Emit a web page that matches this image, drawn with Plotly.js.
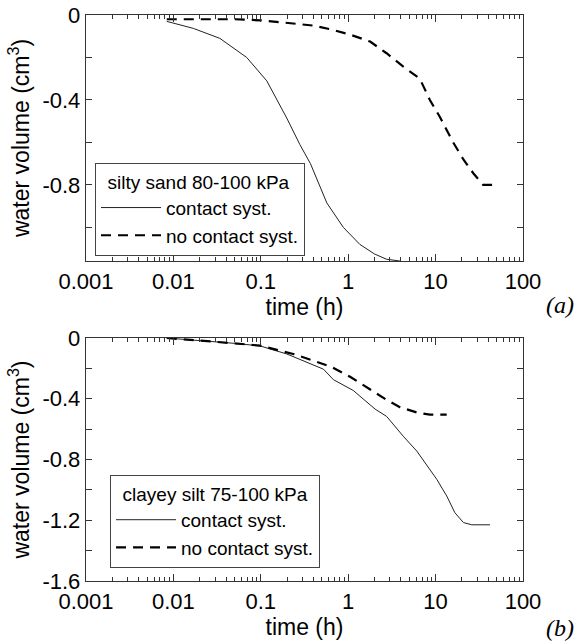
<!DOCTYPE html>
<html>
<head>
<meta charset="utf-8">
<script src="https://cdn.plot.ly/plotly-3.0.1.min.js"></script>
<style>html,body{margin:0;padding:0;background:#fff;}#chart{width:580px;height:644px;}</style>
</head>
<body>
<div id="chart"></div>
<script>
// ---- data (time in hours, water volume in cm3) ----
const seriesNames = ["contact syst.", "no contact syst."];
const legendTitleA = "silty sand 80-100 kPa";
const legendTitleB = "clayey silt 75-100 kPa";

const a_contact_t = [0.0084, 0.0169, 0.034, 0.069, 0.117, 0.198, 0.28, 0.37, 0.57, 0.88, 1.36, 2.0, 2.75, 3.9];
const a_contact_v = [-0.03, -0.063, -0.11, -0.2, -0.31, -0.485, -0.61, -0.7, -0.885, -1.0, -1.08, -1.125, -1.15, -1.158];

const a_nocontact_t = [0.0084, 0.02, 0.05, 0.1, 0.14, 0.234, 0.4, 0.67, 1.1, 1.78, 2.75, 4.27, 6.6, 8.6, 11.2, 15.9, 20.8, 27, 35, 52];
const a_nocontact_v = [-0.02, -0.02, -0.02, -0.025, -0.03, -0.04, -0.05, -0.07, -0.095, -0.125, -0.18, -0.243, -0.3, -0.4, -0.48, -0.6, -0.68, -0.745, -0.8, -0.8];

const b_contact_t = [0.0084, 0.02, 0.05, 0.098, 0.198, 0.52, 0.68, 1.14, 1.49, 2.03, 2.75, 4.27, 6.1, 7.9, 10.3, 13.4, 16.6, 20.8, 25.9, 41.9];
const b_contact_v = [0, -0.015, -0.035, -0.052, -0.105, -0.205, -0.275, -0.345, -0.402, -0.468, -0.516, -0.647, -0.745, -0.833, -0.93, -1.04, -1.15, -1.215, -1.23, -1.23];

const b_nocontact_t = [0.0084, 0.02, 0.05, 0.098, 0.14, 0.235, 0.4, 0.64, 1.05, 1.78, 2.75, 3.9, 6.1, 8.6, 13.4];
const b_nocontact_v = [0, -0.015, -0.035, -0.05, -0.072, -0.105, -0.149, -0.19, -0.255, -0.34, -0.407, -0.455, -0.49, -0.505, -0.505];

const xTickVals = [0.001, 0.01, 0.1, 1, 10, 100];
const xTickText = ["0.001", "0.01", "0.1", "1", "10", "100"];
const yTickValsA = [0, -0.4, -0.8];
const yTickTextA = ["0", "-0.4", "-0.8"];
const yMinorA = [-0.2, -0.6, -1.0];
const yTickValsB = [0, -0.4, -0.8, -1.2, -1.6];
const yTickTextB = ["0", "-0.4", "-0.8", "-1.2", "-1.6"];
const yMinorB = [-0.2, -0.6, -1.0, -1.4];

// ---- styles ----
const FONT = "Liberation Sans, Arial, sans-serif";
const solidLine = {color: "#222", width: 1};
const dashLine = {color: "#000", width: 2.2, dash: "10px,7px"};

const traces = [
  {x: a_contact_t, y: a_contact_v, name: seriesNames[0], mode: "lines", line: solidLine, xaxis: "x", yaxis: "y", legend: "legend"},
  {x: a_nocontact_t, y: a_nocontact_v, name: seriesNames[1], mode: "lines", line: dashLine, xaxis: "x", yaxis: "y", legend: "legend"},
  {x: b_contact_t, y: b_contact_v, name: seriesNames[0], mode: "lines", line: solidLine, xaxis: "x2", yaxis: "y2", legend: "legend2"},
  {x: b_nocontact_t, y: b_nocontact_v, name: seriesNames[1], mode: "lines", line: dashLine, xaxis: "x2", yaxis: "y2", legend: "legend2"}
];

function xAxis(anchor) {
  return {
    type: "log", range: [-3, 2], anchor: anchor, domain: [0, 1],
    tickvals: xTickVals, ticktext: xTickText,
    ticks: "inside", ticklen: 7, tickwidth: 1, tickcolor: "#333",
    minor: {ticks: "inside", ticklen: 4, tickwidth: 1, tickcolor: "#333", dtick: "D1", showgrid: false},
    showline: true, linecolor: "#333", linewidth: 1.3, mirror: "ticks",
    showgrid: false, zeroline: false,
    tickfont: {family: FONT, size: 22, color: "#000"},
    title: {text: "time (h)", font: {family: FONT, size: 23, color: "#000"}, standoff: 0}
  };
}
function yAxis(anchor, domain, range, tv, tt, minorVals) {
  return {
    domain: domain, range: range, anchor: anchor,
    tickvals: tv, ticktext: tt,
    ticks: "inside", ticklen: 6, tickwidth: 1, tickcolor: "#333",
    minor: {tickvals: minorVals, ticks: "inside", ticklen: 6, tickwidth: 1, tickcolor: "#333", showgrid: false},
    showline: true, linecolor: "#333", linewidth: 1.3, mirror: "ticks",
    showgrid: false, zeroline: false,
    tickfont: {family: FONT, size: 22, color: "#000"},
    title: {text: "water volume (cm<sup>3</sup>)", font: {family: FONT, size: 23, color: "#000"}, standoff: 6}
  };
}

const legendCommon = {
  bgcolor: "#fff", bordercolor: "#444", borderwidth: 1,
  font: {family: FONT, size: 19, color: "#000"},
  itemwidth: 60, tracegroupgap: 0,
  xanchor: "left", yanchor: "top", itemclick: false
};

const annFont = {family: "Liberation Serif, Times New Roman, serif", size: 24, color: "#000"};

const layout = {
  width: 580, height: 644,
  margin: {l: 86, r: 57, t: 15, b: 63},
  paper_bgcolor: "#fff", plot_bgcolor: "#fff",
  showlegend: true,
  xaxis: xAxis("y"),
  yaxis: yAxis("x", [0.5654, 1], [-1.158, 0], yTickValsA, yTickTextA, yMinorA),
  xaxis2: xAxis("y2"),
  yaxis2: yAxis("x2", [0, 0.4293], [-1.6, 0], yTickValsB, yTickTextB, yMinorB),
  legend: Object.assign({}, legendCommon, {x: 0.0206, y: 0.7385,
    title: {text: "\u2002" + legendTitleA, font: {family: FONT, size: 19, color: "#000"}}}),
  legend2: Object.assign({}, legendCommon, {x: 0.055, y: 0.187,
    title: {text: "\u2002" + legendTitleB, font: {family: FONT, size: 19, color: "#000"}}}),
  annotations: [
    {text: "<i>(a)</i>", xref: "paper", yref: "paper", x: 1.121, y: 0.488, xanchor: "right", yanchor: "middle",
     showarrow: false, font: annFont},
    {text: "<i>(b)</i>", xref: "paper", yref: "paper", x: 1.121, y: -0.083, xanchor: "right", yanchor: "middle",
     showarrow: false, font: annFont}
  ]
};

Plotly.newPlot("chart", traces, layout, {displayModeBar: false, staticPlot: true});
</script>
</body>
</html>
